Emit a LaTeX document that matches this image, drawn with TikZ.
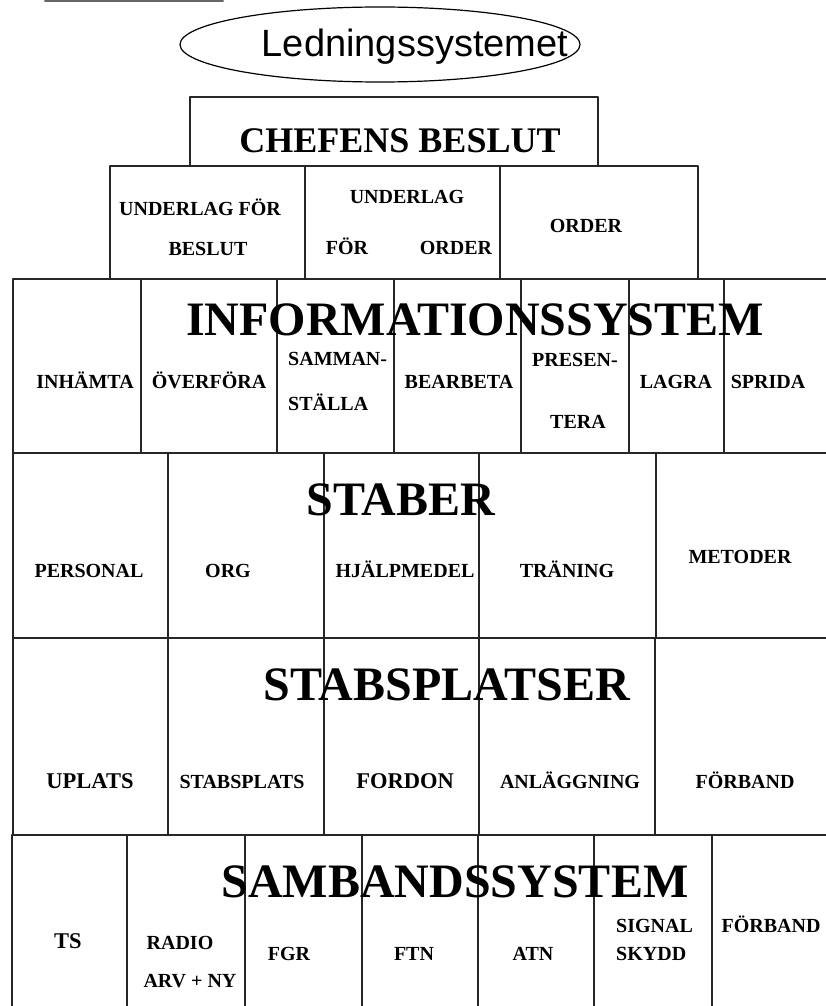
\documentclass[tikz,border=0pt]{standalone}
\usepackage{fontspec}
\setmainfont{Liberation Serif}
\newfontfamily\ledfont{Liberation Sans}
\usetikzlibrary{shapes.geometric}

\tikzset{
  cell/.style={line width=1.6pt, draw=black!85},
  lbl/.style={anchor=base, inner sep=0pt, font=\fontsize{20}{22}\selectfont\bfseries},
  lblbig/.style={lbl, font=\fontsize{22.5}{24}\selectfont\bfseries},
  rubrik/.style={anchor=base, inner sep=0pt, font=\fontsize{48}{50}\selectfont\bfseries},
}

\begin{document}
\begin{tikzpicture}[x=1pt, y=-1pt, line cap=round, line join=round]
  \useasboundingbox (0,0) rectangle (825,1006);
  \draw[line width=2pt, black!60] (45,1.5) -- (223,1.5);
  % ledningssystemet
  \node[draw, ellipse, line width=1.2pt, minimum width=400pt, minimum height=75pt] (ram) at (380,44.5) {};
  \node[anchor=base, inner sep=0pt, font=\ledfont\fontsize{38}{40}\selectfont] (led) at (415,57) {Ledningssystemet};
  % beslut
  \draw[cell] (190,97) rectangle (598,166);
  \node[anchor=base, inner sep=0pt, font=\fontsize{36}{38}\selectfont\bfseries] (chef) at (400,152) {CHEFENS BESLUT};
  \foreach \a/\b in {110/305, 305/500, 500/698}
    \draw[cell] (\a,166) rectangle (\b,279);
  \node[lbl] (ub1) at (200,215) {UNDERLAG FÖR};
  \node[lbl] (ub2) at (208,255) {BESLUT};
  \node[lbl] (uo1) at (407,203) {UNDERLAG};
  \node[lbl] (uo2) at (347,254) {FÖR};
  \node[lbl] (uo3) at (456,254) {ORDER};
  \node[lbl] (ord) at (586,232) {ORDER};
  % informationssystem
  \foreach \a/\b in {13/141, 141/277, 277/394, 394/521, 521/629, 629/724, 724/830}
    \draw[cell] (\a,279) rectangle (\b,453);
  \node[rubrik] (info) at (475,335) {INFORMATIONSSYSTEM};
  \foreach \x/\n/\t in {85/inh/INHÄMTA, 209/over/ÖVERFÖRA, 459/bear/BEARBETA, 676/lagra/LAGRA, 768/sprida/SPRIDA}
    \node[lbl] (\n) at (\x,388) {\t};
  \node[lbl, anchor=base west] (sam1) at (288,365) {SAMMAN-};
  \node[lbl, anchor=base west] (sam2) at (288,410) {STÄLLA};
  \node[lbl] (pre1) at (575,366) {PRESEN-};
  \node[lbl] (pre2) at (578,428) {TERA};
  % staber
  \foreach \a/\b in {13/168, 168/324, 324/479, 479/656, 656/830}
    \draw[cell] (\a,453) rectangle (\b,638);
  \node[rubrik] (staber) at (401,515) {STABER};
  \foreach \x/\n/\t in {89/pers/PERSONAL, 228/org/ORG, 405/hjalp/HJÄLPMEDEL, 567/tran/TRÄNING}
    \node[lbl] (\n) at (\x,577) {\t};
  \node[lbl] (met) at (740,563) {METODER};
  % stabsplatser
  \foreach \a/\b in {13/168, 168/324, 324/479, 479/655, 655/830}
    \draw[cell] (\a,638) rectangle (\b,835);
  \node[rubrik] (splats) at (447,700) {STABSPLATSER};
  \node[lblbig] (upl) at (90,788) {UPLATS};
  \node[lbl] (stpl) at (242,788) {STABSPLATS};
  \node[lblbig] (ford) at (405,788) {FORDON};
  \node[lbl] (anl) at (570,788) {ANLÄGGNING};
  \node[lbl] (forb1) at (745,788) {FÖRBAND};
  % sambandssystem
  \foreach \a/\b in {12/127, 127/245, 245/362, 362/478, 478/594, 594/712, 712/830}
    \draw[cell] (\a,835) rectangle (\b,1010);
  \node[rubrik] (samb) at (455,897) {SAMBANDSSYSTEM};
  \node[lblbig] (ts) at (68,948) {TS};
  \node[lbl] (rad1) at (180,949) {RADIO};
  \node[lbl] (rad2) at (190,987) {ARV + NY};
  \foreach \x/\n/\t in {289/fgr/FGR, 414/ftn/FTN, 533/atn/ATN}
    \node[lbl] (\n) at (\x,960) {\t};
  \node[lbl, anchor=base west] (sig1) at (616,932) {SIGNAL};
  \node[lbl, anchor=base west] (sig2) at (616,960) {SKYDD};
  \node[lbl] (forb2) at (771,932) {FÖRBAND};
\end{tikzpicture}
\end{document}
